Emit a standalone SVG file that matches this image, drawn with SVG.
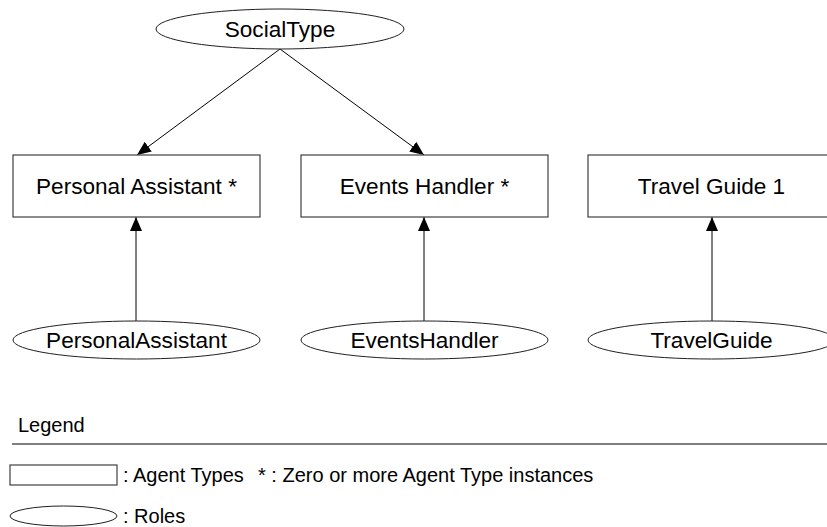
<svg xmlns="http://www.w3.org/2000/svg" width="827" height="527" viewBox="0 0 827 527">
  <style>
    .box { fill: #ffffff; stroke: #404040; stroke-width: 1.2; }
    .role { fill: #ffffff; stroke: #202020; stroke-width: 1; }
    .label { font-family: "Liberation Sans", Arial, sans-serif; font-size: 22.6px; fill: #000000; text-anchor: middle; }
    .legend { font-family: "Liberation Sans", Arial, sans-serif; font-size: 20px; fill: #000000; }
    .edge { fill: none; stroke: #000000; stroke-width: 1; marker-end: url(#arrow); }
  </style>
  <defs>
    <marker id="arrow" viewBox="0 0 14 12" refX="14" refY="6" markerWidth="14" markerHeight="12" markerUnits="userSpaceOnUse" orient="auto">
      <path d="M0,0 L14,6 L0,12 Z" fill="#000000"/>
    </marker>
  </defs>
  <rect width="827" height="527" fill="#ffffff"/>

  <!-- connectors -->
  <g id="connectors">
    <line class="edge" x1="280" y1="49" x2="137" y2="155"/>
    <line class="edge" x1="280" y1="49" x2="424" y2="155"/>
    <line class="edge" x1="136" y1="321" x2="136" y2="217"/>
    <line class="edge" x1="424" y1="321" x2="424" y2="217"/>
    <line class="edge" x1="712" y1="321" x2="712" y2="217"/>
  </g>

  <!-- social type -->
  <g id="social-type">
    <ellipse class="role" cx="280" cy="29" rx="124" ry="20"/>
    <text class="label" x="280" y="37">SocialType</text>
  </g>

  <!-- agent types -->
  <g id="agent-personal-assistant">
    <rect class="box" x="13" y="155" width="247" height="62"/>
    <text class="label" x="136.5" y="193.5">Personal Assistant *</text>
  </g>
  <g id="agent-events-handler">
    <rect class="box" x="301" y="155" width="247" height="62"/>
    <text class="label" x="424.5" y="193.5">Events Handler *</text>
  </g>
  <g id="agent-travel-guide">
    <rect class="box" x="588" y="155" width="247" height="62"/>
    <text class="label" x="711.5" y="193.5">Travel Guide 1</text>
  </g>

  <!-- roles -->
  <g id="role-personal-assistant">
    <ellipse class="role" cx="136.5" cy="340" rx="123.5" ry="19"/>
    <text class="label" x="136.5" y="348">PersonalAssistant</text>
  </g>
  <g id="role-events-handler">
    <ellipse class="role" cx="424.5" cy="340" rx="123.5" ry="19"/>
    <text class="label" x="424.5" y="348">EventsHandler</text>
  </g>
  <g id="role-travel-guide">
    <ellipse class="role" cx="711.5" cy="340" rx="123.5" ry="19"/>
    <text class="label" x="711.5" y="348">TravelGuide</text>
  </g>

  <!-- legend -->
  <g id="legend">
    <text class="legend" x="18" y="432">Legend</text>
    <line x1="12" y1="444" x2="827" y2="444" stroke="#000000" stroke-width="1"/>
    <rect class="box" x="10" y="465" width="107" height="20"/>
    <text class="legend" x="123" y="482">: Agent Types</text>
    <text class="legend" x="258" y="482">* : Zero or more Agent Type instances</text>
    <ellipse class="role" cx="63.5" cy="516" rx="53.5" ry="10"/>
    <text class="legend" x="123" y="523">: Roles</text>
  </g>
</svg>
